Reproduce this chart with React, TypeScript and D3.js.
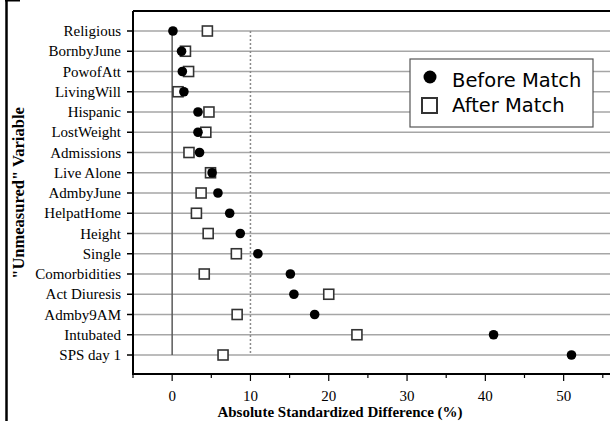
import * as d3 from 'd3';
import { useEffect, useRef } from "react";

const variables = ['Religious', 'BornbyJune', 'PowofAtt', 'LivingWill', 'Hispanic', 'LostWeight', 'Admissions', 'Live Alone', 'AdmbyJune', 'HelpatHome', 'Height', 'Single', 'Comorbidities', 'Act Diuresis', 'Admby9AM', 'Intubated', 'SPS day 1'];
const beforeMatch = [0.1, 1.2, 1.3, 1.5, 3.3, 3.3, 3.5, 5.1, 5.85, 7.35, 8.7, 10.95, 15.1, 15.55, 18.2, 41.05, 51.0];
const afterMatch = [4.5, 1.7, 2.1, 0.75, 4.7, 4.3, 2.15, 4.9, 3.7, 3.1, 4.6, 8.2, 4.1, 20.0, 8.3, 23.6, 6.5];
const xTicks = [0, 10, 20, 30, 40, 50];
const xMinorTicks = [-5, 5, 15, 25, 35, 45, 55];

const width = 610;
const height = 421;

const App = () => {
    const svgRef = useRef(null);

    useEffect(() => {
        const svg = d3.select(svgRef.current);
        svg.selectAll('*').remove();

        const left = 133, right = 610, top = 11, bottom = 374;
        const x = d3.scaleLinear().domain([-5, 55.92]).range([left, right]);
        const y = d3.scalePoint().domain(variables).range([31, 355]);

        svg.append('rect').attr('width', width).attr('height', height).attr('fill', '#fff');

        // outer frame bits
        svg.append('line').attr('x1', 6.5).attr('x2', 6.5).attr('y1', 0).attr('y2', height)
            .attr('stroke', '#000').attr('stroke-width', 2.5);
        svg.append('line').attr('x1', 5).attr('x2', 20).attr('y1', 0.5).attr('y2', 0.5)
            .attr('stroke', '#000').attr('stroke-width', 2);

        // grid rows
        svg.selectAll('.row').data(variables).enter().append('line')
            .attr('x1', left).attr('x2', right)
            .attr('y1', d => y(d)).attr('y2', d => y(d))
            .attr('stroke', '#a6a6a6').attr('stroke-width', 1.5);

        // zero line and 10% reference
        svg.append('line').attr('x1', x(0)).attr('x2', x(0))
            .attr('y1', y(variables[0])).attr('y2', y(variables[variables.length - 1]))
            .attr('stroke', '#5a5a5a').attr('stroke-width', 1.5);
        svg.append('line').attr('x1', x(10)).attr('x2', x(10))
            .attr('y1', y(variables[0])).attr('y2', y(variables[variables.length - 1]))
            .attr('stroke', '#8a8a8a').attr('stroke-width', 1.5).attr('stroke-dasharray', '2,2');

        // axes frame
        svg.append('line').attr('x1', left).attr('x2', right).attr('y1', top).attr('y2', top)
            .attr('stroke', '#000').attr('stroke-width', 2);
        svg.append('line').attr('x1', left).attr('x2', left).attr('y1', top).attr('y2', bottom)
            .attr('stroke', '#000').attr('stroke-width', 2);
        svg.append('line').attr('x1', left - 1).attr('x2', right).attr('y1', bottom).attr('y2', bottom)
            .attr('stroke', '#000').attr('stroke-width', 2);

        // y ticks and labels
        svg.selectAll('.ytick').data(variables).enter().append('line')
            .attr('x1', left - 6).attr('x2', left)
            .attr('y1', d => y(d)).attr('y2', d => y(d))
            .attr('stroke', '#000').attr('stroke-width', 1.5);
        svg.selectAll('.ylabel').data(variables).enter().append('text')
            .attr('x', left - 12).attr('y', d => y(d) + 5)
            .attr('text-anchor', 'end')
            .attr('font-family', '"Liberation Serif", serif').attr('font-size', 15)
            .text(d => d);

        // x ticks
        svg.selectAll('.xtick').data(xTicks).enter().append('line')
            .attr('x1', d => x(d)).attr('x2', d => x(d))
            .attr('y1', bottom).attr('y2', bottom + 7)
            .attr('stroke', '#000').attr('stroke-width', 1.2);
        svg.selectAll('.xminor').data(xMinorTicks).enter().append('line')
            .attr('x1', d => x(d)).attr('x2', d => x(d))
            .attr('y1', bottom).attr('y2', bottom + 4)
            .attr('stroke', '#000').attr('stroke-width', 1.2);
        svg.selectAll('.xlabel').data(xTicks).enter().append('text')
            .attr('x', d => x(d)).attr('y', 401)
            .attr('text-anchor', 'middle')
            .attr('font-family', '"Liberation Serif", serif').attr('font-size', 15)
            .text(d => d);

        svg.append('text')
            .attr('x', 340).attr('y', 417)
            .attr('text-anchor', 'middle')
            .attr('font-family', '"Liberation Serif", serif').attr('font-size', 15).attr('font-weight', 'bold')
            .text('Absolute Standardized Difference (%)');
        svg.append('text')
            .attr('transform', 'translate(24,193) rotate(270)')
            .attr('text-anchor', 'middle')
            .attr('font-family', '"Liberation Serif", serif').attr('font-size', 16.5).attr('font-weight', 'bold')
            .text('"Unmeasured" Variable');

        // after match squares
        svg.selectAll('.after').data(variables).enter().append('rect')
            .attr('x', (d, i) => x(afterMatch[i]) - 5)
            .attr('y', d => y(d) - 5)
            .attr('width', 10).attr('height', 10)
            .attr('fill', '#fff').attr('stroke', '#333').attr('stroke-width', 1.6);

        // before match dots
        svg.selectAll('.before').data(variables).enter().append('circle')
            .attr('cx', (d, i) => x(beforeMatch[i]))
            .attr('cy', d => y(d))
            .attr('r', 4.8)
            .attr('fill', '#000');

        // legend
        const legend = svg.append('g');
        legend.append('rect').attr('x', 410).attr('y', 59).attr('width', 183).attr('height', 68)
            .attr('fill', '#fff').attr('stroke', '#555').attr('stroke-width', 1.2);
        legend.append('circle').attr('cx', 430).attr('cy', 77).attr('r', 6.5).attr('fill', '#000');
        legend.append('rect').attr('x', 422).attr('y', 98).attr('width', 15).attr('height', 15)
            .attr('fill', '#fff').attr('stroke', '#333').attr('stroke-width', 2);
        legend.append('text').attr('x', 452).attr('y', 87)
            .attr('font-family', '"Comic Sans MS", "DejaVu Sans", sans-serif').attr('font-size', 19.5)
            .text('Before Match');
        legend.append('text').attr('x', 452).attr('y', 112)
            .attr('font-family', '"Comic Sans MS", "DejaVu Sans", sans-serif').attr('font-size', 19.5)
            .text('After Match');
    }, []);

    return (
        <div style={{ position: 'absolute', left: 0, top: 0 }}>
            <svg ref={svgRef} width={width} height={height} style={{ display: 'block' }} />
        </div>
    );
}

export default App;
